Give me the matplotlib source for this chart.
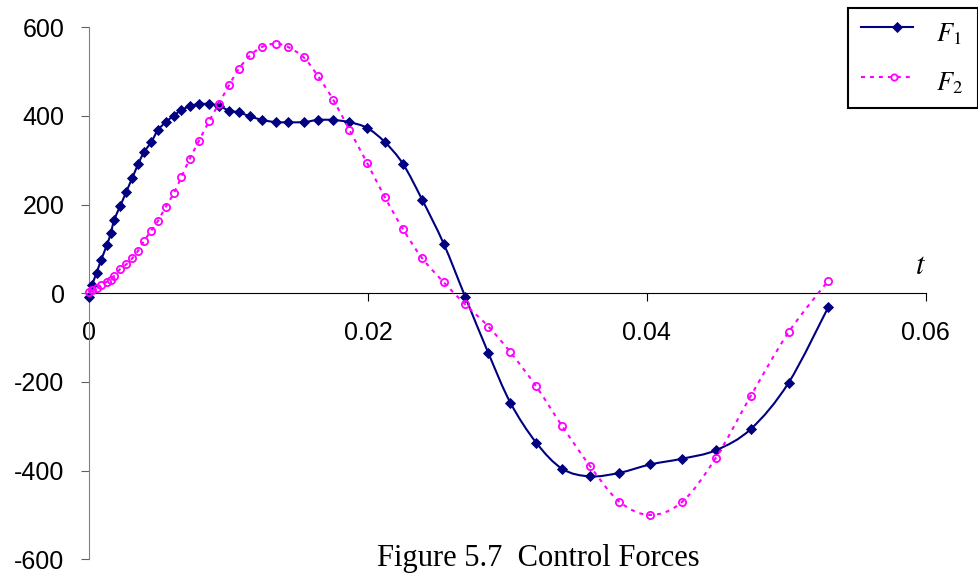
import numpy as np
import matplotlib
matplotlib.use("Agg")
import matplotlib.pyplot as plt
from matplotlib.path import Path
from matplotlib.patches import PathPatch, Rectangle
from matplotlib.lines import Line2D

# Sample times shared by both control forces
t = [0.0, 0.0002, 0.00052, 0.00086, 0.00125, 0.00154, 0.00178, 0.00222, 0.00264,
     0.00308, 0.0035, 0.00392, 0.00444, 0.00492, 0.00548, 0.00607, 0.0066, 0.0072,
     0.00785, 0.00859, 0.0093, 0.01002, 0.01072, 0.01155, 0.01241, 0.01339, 0.01423,
     0.01538, 0.01638, 0.01749, 0.01865, 0.01993, 0.0212, 0.0225, 0.02388, 0.02542,
     0.02697, 0.02863, 0.03021, 0.03206, 0.03393, 0.03593, 0.03802, 0.04025, 0.04254,
     0.04495, 0.04746, 0.05016, 0.053]

f1 = [-9, 18, 46, 76, 108, 135, 165, 197, 228, 260, 291, 318, 341, 368, 386, 401,
      413, 422, 427, 427, 423, 412, 408, 399, 391, 386, 386, 386, 391, 391, 386, 373,
      341, 292, 211, 112, -8, -135, -247, -337, -396, -413, -405, -386, -373, -354,
      -306, -202, -32]

f2 = [2, 7.5, 11, 19, 26, 31, 39, 55, 65, 79, 96, 118, 141, 163, 195, 226, 262, 303,
      343, 388, 428, 469, 506, 537, 556, 563, 556, 532, 491, 437, 369, 294, 217, 145,
      79, 25, -25, -75, -133, -210, -300, -390, -470, -500, -470, -371, -231, -88, 28]

x_ticks = [0, 0.02, 0.04, 0.06]
x_tick_labels = ["0", "0.02", "0.04", "0.06"]
y_ticks = [-600, -400, -200, 0, 200, 400, 600]
y_tick_labels = ["-600", "-400", "-200", "0", "200", "400", "600"]
series_labels = [r"$F_1$", r"$F_2$"]
caption = "Figure 5.7  Control Forces"

NAVY = "#000080"
MAGENTA = "#FF00FF"

plt.rcParams["font.family"] = ["Liberation Sans", "DejaVu Sans"]
plt.rcParams["mathtext.fontset"] = "stix"


def smooth_path(x, y):
    """Catmull-Rom style Bezier curve through every point."""
    pts = np.column_stack([x, y]).astype(float)
    n = len(pts)
    verts = [pts[0]]
    codes = [Path.MOVETO]
    for i in range(n - 1):
        p0 = pts[i - 1] if i > 0 else pts[i]
        p1 = pts[i]
        p2 = pts[i + 1]
        p3 = pts[i + 2] if i + 2 < n else pts[i + 1]
        verts += [p1 + (p2 - p0) / 6.0, p2 - (p3 - p1) / 6.0, p2]
        codes += [Path.CURVE4] * 3
    return Path(verts, codes)


W, H = 979, 573
fig = plt.figure(figsize=(W / 100, H / 100), dpi=100)
ax_left, ax_right, ax_top, ax_bottom = 89.3, 925.7, 27.3, 559.3
ax = fig.add_axes([ax_left / W, 1 - ax_bottom / H,
                   (ax_right - ax_left) / W, (ax_bottom - ax_top) / H])
ax.set_xlim(0, 0.06)
ax.set_ylim(-600, 600)
ax.patch.set_alpha(0)

# F1: smooth solid navy line with diamonds
ax.add_patch(PathPatch(smooth_path(t, f1), fill=False, edgecolor=NAVY,
                       linewidth=1.5, zorder=2))
ax.plot(t, f1, ls="none", marker="D", ms=5.3, color=NAVY, mec=NAVY, mew=0.6,
        zorder=3, clip_on=False)

# F2: smooth dotted magenta line with open circles
ax.add_patch(PathPatch(smooth_path(t, f2), fill=False, edgecolor=MAGENTA,
                       linewidth=1.5, linestyle=(0, (1.9, 2.4)), capstyle="butt",
                       zorder=4))
ax.plot(t, f2, ls="none", marker="o", ms=5.2, mfc="none", mec=MAGENTA, mew=1.3,
        zorder=5, clip_on=False)

# Axes through the origin
for side in ("top", "right"):
    ax.spines[side].set_visible(False)
ax.spines["bottom"].set_position(("data", 0))
ax.spines["bottom"].set_color("black")
ax.spines["bottom"].set_linewidth(0.8)
ax.spines["left"].set_color("#808080")
ax.spines["left"].set_linewidth(0.8)

ax.set_xticks(x_ticks)
ax.set_xticklabels(x_tick_labels)
ax.set_yticks(y_ticks)
ax.set_yticklabels(y_tick_labels)
ax.tick_params(axis="x", direction="out", length=5.8, width=0.8, color="black",
               labelsize=18, pad=14)
ax.tick_params(axis="y", direction="out", length=5.8, width=0.8, color="#606060",
               labelsize=18, pad=12)

# Axis name for time
fig.text(921 / W, 1 - 266 / H, r"$t$", fontsize=22, ha="center", va="center")

# Legend box drawn in figure pixels
lx0, ly0, lx1, ly1 = 848.3, 8.3, 977.7, 107.7
fig.patches.append(Rectangle((lx0 / W, 1 - ly1 / H), (lx1 - lx0) / W, (ly1 - ly0) / H,
                             transform=fig.transFigure, facecolor="white",
                             edgecolor="black", linewidth=1.5, zorder=10))
rows = [
    dict(y=27.3, text_y=41.7, color=NAVY, ls="-", marker="D", ms=5, mfc=NAVY,
         mew=0.6, mx=896.7),
    dict(y=76.7, text_y=90.7, color=MAGENTA, ls=(0, (1.9, 2.4)), marker="o", ms=4.5,
         mfc="none", mew=1.3, mx=894.3),
]
for row, label in zip(rows, series_labels):
    fy = 1 - row["y"] / H
    fig.add_artist(Line2D([860.7 / W, 912.7 / W], [fy, fy], transform=fig.transFigure,
                          color=row["color"], lw=1.5, ls=row["ls"],
                          dash_capstyle="butt", zorder=11))
    fig.add_artist(Line2D([row["mx"] / W], [fy], transform=fig.transFigure,
                          ls="none", marker=row["marker"], ms=row["ms"],
                          mfc=row["mfc"], mec=row["color"], mew=row["mew"], zorder=12))
    fig.text(936 / W, 1 - row["text_y"] / H, label, fontsize=19, ha="left",
             va="baseline", zorder=12)

# Caption
fig.text(538.5 / W, 1 - 566 / H, caption, fontsize=22, ha="center", va="baseline",
         family=["Liberation Serif", "DejaVu Serif"])

fig.savefig("out.png", dpi=100)
